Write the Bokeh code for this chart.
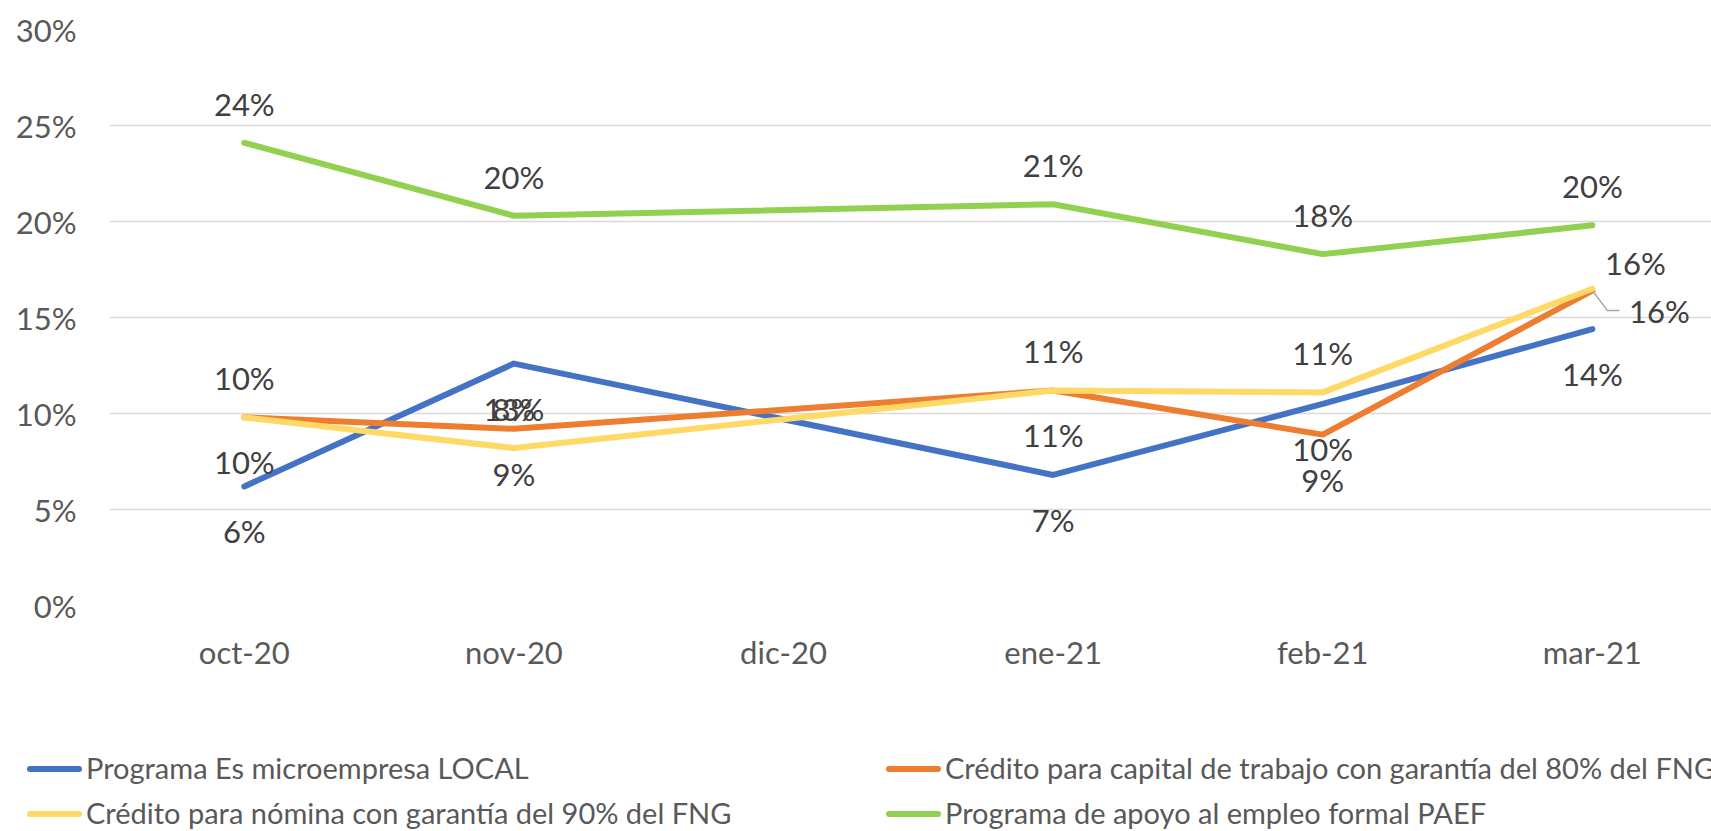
from bokeh.plotting import figure
from bokeh.layouts import column
from bokeh.models import Range1d, FixedTicker, ColumnDataSource, Div
from bokeh.core.properties import value
from bokeh.embed import file_html
from bokeh.resources import INLINE

# ---------------- data (percent) ----------------
categories = ["oct-20", "nov-20", "dic-20", "ene-21", "feb-21", "mar-21"]
microempresa = [6.2, 12.6, None, 6.8, 10.5, 14.4]
capital_trabajo = [9.8, 9.2, None, 11.2, 8.9, 16.4]
nomina = [9.8, 8.2, None, 11.2, 11.1, 16.5]
paef = [24.1, 20.3, None, 20.9, 18.3, 19.8]
y_ticks = [0, 5, 10, 15, 20, 25, 30]

series_names = [
    "Programa Es microempresa LOCAL",
    "Crédito para capital de trabajo con garantía del 80% del FNG",
    "Crédito para nómina con garantía del 90% del FNG",
    "Programa de apoyo al empleo formal PAEF",
]
series_values = [microempresa, capital_trabajo, nomina, paef]
colors = ["#4472C4", "#ED7D31", "#FFD966", "#92D050"]
label_pos = ["below", "below", "above", "above"]

FONT = "Lato"
W, H_MAIN, H_LEG = 1711, 700, 131
LEFT, TOP, BOTTOM = 109, 29, 95
X_END = 5.442

p = figure(width=W, height=H_MAIN, output_backend="svg", toolbar_location=None,
           x_range=Range1d(-0.5, X_END), y_range=Range1d(0, 30),
           min_border_left=LEFT, min_border_right=0, min_border_top=TOP,
           min_border_bottom=BOTTOM)
p.outline_line_color = None
p.background_fill_color = "white"
p.border_fill_color = "white"

p.xgrid.grid_line_color = None
p.ygrid.grid_line_color = "#D9D9D9"
p.ygrid.grid_line_width = 1.5
p.ygrid.ticker = FixedTicker(ticks=y_ticks)

p.yaxis.ticker = FixedTicker(ticks=y_ticks)
p.yaxis.major_label_overrides = {t: f"{t}%" for t in y_ticks}
p.xaxis.ticker = FixedTicker(ticks=list(range(len(categories))))
p.xaxis.major_label_overrides = {i: c for i, c in enumerate(categories)}
for ax in (p.xaxis, p.yaxis):
    ax.axis_line_color = None
    ax.major_tick_line_color = None
    ax.minor_tick_line_color = None
    ax.major_tick_out = 0
    ax.major_label_text_font = FONT
    ax.major_label_text_font_size = "31px"
    ax.major_label_text_color = "#595959"
p.yaxis.major_label_standoff = 33
p.xaxis.major_label_standoff = 27

# series lines (dic-20 has no value: the line joins nov-20 to ene-21)
for vals, col in zip(series_values, colors):
    xs = [i for i, v in enumerate(vals) if v is not None]
    ys = [v for v in vals if v is not None]
    p.line(xs, ys, line_color=col, line_width=6, line_join="round", line_cap="round")

# data labels
px_per_x = (W - LEFT) / (X_END + 0.5)
px_per_y = (H_MAIN - TOP - BOTTOM) / 30.0
for k, (vals, pos) in enumerate(zip(series_values, label_pos)):
    xs, ys, txt, xo, yo = [], [], [], [], []
    for i, v in enumerate(vals):
        if v is None:
            continue
        xs.append(i)
        ys.append(v)
        txt.append(f"{round(v):d}%")
        dx, dy = 0, (-39 if pos == "above" else 45)
        if categories[i] == "mar-21" and k == 1:
            dx, dy = 67, 20
        if categories[i] == "mar-21" and k == 2:
            dx, dy = 43, -26
        xo.append(dx)
        yo.append(dy)
    src = ColumnDataSource(dict(x=xs, y=ys, t=txt, xo=xo, yo=yo))
    p.text(x="x", y="y", text="t", x_offset="xo", y_offset="yo", source=src,
           text_align="center", text_baseline="middle",
           text_font=value(FONT), text_font_size="31px", text_color="#404040")

# leader line for the moved orange label at mar-21
mi = categories.index("mar-21")
mv = capital_trabajo[mi]
lx = [mi + 1 / px_per_x, mi + 15 / px_per_x, mi + 27 / px_per_x]
ly = [mv - 1 / px_per_y, mv - 20 / px_per_y, mv - 20 / px_per_y]
p.line(lx, ly, line_color="#A6A6A6", line_width=1.5)

# ---------------- legend strip (two columns, row-major order) ----------------
col_x = [27, 886]          # left edge of legend line for each column
row_c = [69, 114]          # vertical centre of each row within the strip
parts = []
for n, (name, c) in enumerate(zip(series_names, colors)):
    cx = col_x[n % 2]
    cy = row_c[n // 2]
    parts.append(
        f'<div style="position:absolute;left:{cx}px;top:{cy - 3}px;width:55px;height:6px;'
        f'border-radius:3px;background:{c};"></div>'
        f'<div style="position:absolute;left:{cx + 59}px;top:{cy - 19}px;height:35px;'
        f'line-height:35px;white-space:nowrap;">{name}</div>'
    )
html = (f'<div style="position:relative;width:{W}px;height:{H_LEG}px;overflow:hidden;'
        f'font-family:{FONT};font-size:29px;color:#595959;background:white;">'
        + "".join(parts) + "</div>")
leg = Div(text=html, width=W, height=H_LEG, margin=0)

open("out.html", "w").write(file_html(column(p, leg, spacing=0), INLINE))
